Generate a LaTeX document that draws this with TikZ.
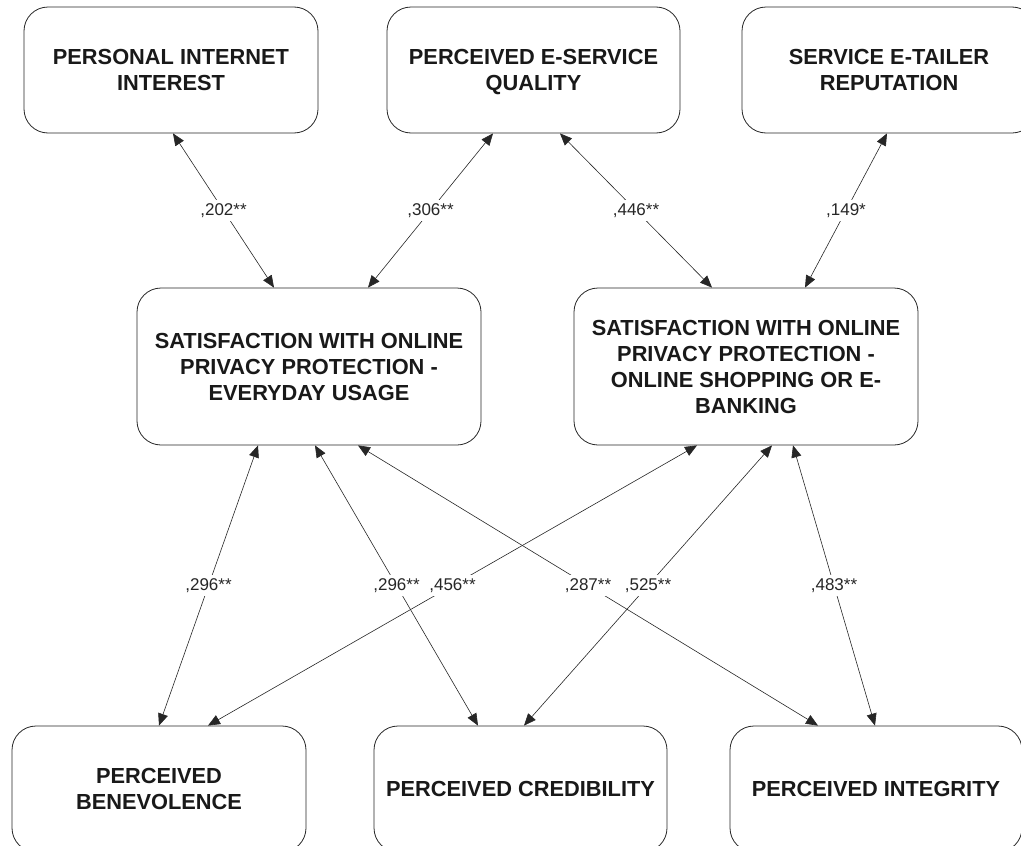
\documentclass[tikz,border=0pt]{standalone}
\usepackage{fontspec}
\setmainfont{Liberation Sans}
\usetikzlibrary{arrows.meta}
\begin{document}
\begin{tikzpicture}[x=1pt,y=-1pt,
  box/.style={draw=black!85, line width=0.8pt, rounded corners=24pt, inner sep=0pt,
    align=center, font=\bfseries\fontsize{21.8}{26}\selectfont, text=black!90},
  topbox/.style={box, minimum width=294pt, minimum height=126pt},
  midbox/.style={box, minimum width=344pt, minimum height=157pt},
  conn/.style={line width=0.6pt, black!85, {Triangle[length=12pt,width=10pt]}-{Triangle[length=12pt,width=10pt]}},
  lbl/.style={fill=white, inner sep=3pt, font=\fontsize{17}{20}\selectfont, text=black!85}]
\useasboundingbox (0,0) rectangle (1021,846);
\clip (0,0) rectangle (1021,846);
% top row
\node[topbox] (pi)  at (171,70)   {PERSONAL INTERNET\\INTEREST};
\node[topbox, minimum width=293pt] (peq) at (533.5,70) {PERCEIVED E-SERVICE\\\smash{QUALITY}};
\node[topbox] (ser) at (889,70)   {SERVICE E-TAILER\\REPUTATION};
% middle row
\node[midbox] (swe) at (309,366.5) {SATISFACTION WITH ONLINE\\PRIVACY PROTECTION -\\EVERYDAY USAGE};
\node[midbox] (swo) at (746,366.5) {SATISFACTION WITH ONLINE\\PRIVACY PROTECTION -\\ONLINE SHOPPING OR E-\\BANKING};
% bottom row
\node[topbox, minimum width=294pt] (ben) at (159,789)   {PERCEIVED\\BENEVOLENCE};
\node[topbox, minimum width=293pt] (cre) at (520.5,789) {PERCEIVED CREDIBILITY};
\node[topbox, minimum width=292pt] (int) at (876,789)   {PERCEIVED INTEGRITY};
% top connectors
\draw[conn] ([xshift=2pt]pi.south) -- node[lbl] (l1) {,202**} ([xshift=-35pt]swe.north);
\draw[conn] ([xshift=-40.5pt]peq.south) -- node[lbl] (l2) {,306**} ([xshift=59pt]swe.north);
\draw[conn] ([xshift=26.5pt]peq.south) -- node[lbl] (l3) {,446**} ([xshift=-34pt]swo.north);
\draw[conn] ([xshift=-2pt]ser.south) -- node[lbl] (l4) {,149*} ([xshift=59pt]swo.north);
% bottom connectors
\draw[conn] ([xshift=-51pt]swe.south) -- node[lbl] (l5) {,296**} ([xshift=0pt]ben.north);
\draw[conn] ([xshift=6pt]swe.south) -- node[lbl] (l6) {,296**} ([xshift=-42.5pt]cre.north);
\draw[conn] ([xshift=49pt]swe.south) -- node[lbl] (l7) {,287**} ([xshift=-58pt]int.north);
\draw[conn] ([xshift=-49pt]swo.south) -- node[lbl] (l8) {,456**} ([xshift=49pt]ben.north);
\draw[conn] ([xshift=26pt]swo.south) -- node[lbl] (l9) {,525**} ([xshift=3.5pt]cre.north);
\draw[conn] ([xshift=47pt]swo.south) -- node[lbl] (l10) {,483**} ([xshift=-1pt]int.north);
\end{tikzpicture}
\end{document}
